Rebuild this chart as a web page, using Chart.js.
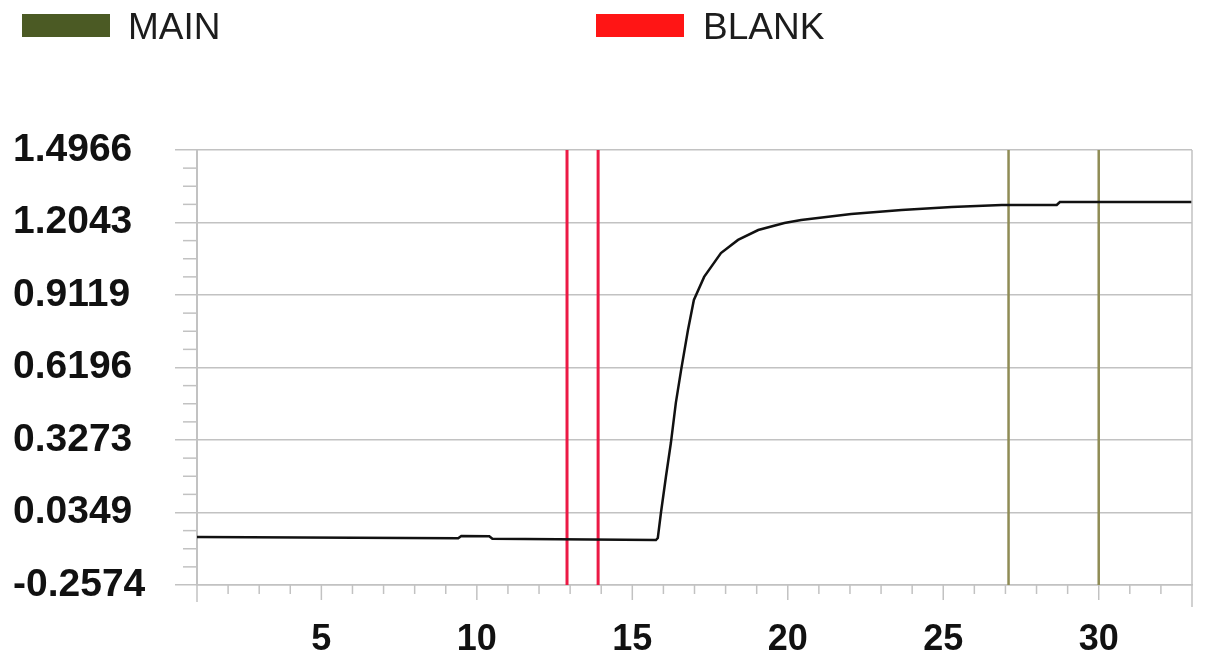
<!DOCTYPE html>
<html lang="en">
<head>
    <meta charset="UTF-8">
    <title>MAIN / BLANK</title>
    <script src="https://cdn.jsdelivr.net/npm/chart.js"></script>
    <style>
        html, body {
            margin: 0;
            padding: 0;
            background: #fff;
        }
        .wrap {
            position: relative;
            width: 1218px;
            height: 662px;
        }
        canvas {
            position: absolute;
            left: 0;
            top: 0;
        }
        .legend-box {
            position: absolute;
            top: 14px;
            width: 88px;
            height: 23px;
        }
        .legend-text {
            position: absolute;
            top: 6px;
            font: 37px "Liberation Sans", Arial, sans-serif;
            color: #1c1c1c;
        }
    </style>
</head>
<body>
    <div class="wrap">
        <canvas id="myChart" width="1218" height="662"></canvas>
        <div id="legend"></div>
    </div>

    <script>
        // axis ranges and tick labels
        const xMin = 1;
        const xMax = 33;
        const xTicks = [5, 10, 15, 20, 25, 30];
        const yTicks = [-0.2574, 0.0349, 0.3273, 0.6196, 0.9119, 1.2043, 1.4966];

        // measured curve
        const signalX = [1, 9.4, 9.5, 10.4, 10.5, 15.76, 15.82, 15.92, 16.08, 16.24, 16.40, 16.57, 16.79, 16.98,
                         17.31, 17.85, 18.40, 19.05, 19.89, 20.43, 22.04, 23.66, 25.27, 26.88, 28.65, 28.75, 33];
        const signalY = [-0.064, -0.069, -0.060, -0.061, -0.071, -0.076, -0.068, 0.033, 0.178, 0.315, 0.477, 0.610, 0.771, 0.892,
                         0.985, 1.081, 1.134, 1.174, 1.202, 1.214, 1.239, 1.255, 1.267, 1.275, 1.275, 1.287, 1.287];

        // marker positions
        const mainX = [27.1, 30.0];
        const blankX = [12.9, 13.9];

        const mainColor = '#8f8c55';
        const mainLegendColor = '#4b5a24';
        const blankColor = '#ec1a45';
        const blankLegendColor = '#ff1515';
        const gridColor = '#c2c2c2';

        const yMin = yTicks[0];
        const yMax = yTicks[yTicks.length - 1];

        function verticalLines(xs) {
            const pts = [];
            xs.forEach(x => {
                pts.push({x: x, y: yMin}, {x: x, y: yMax}, {x: x, y: null});
            });
            return pts;
        }

        // html legend
        const legendItems = [
            {label: 'MAIN', color: mainLegendColor, boxLeft: 22, textLeft: 128},
            {label: 'BLANK', color: blankLegendColor, boxLeft: 596, textLeft: 703}
        ];
        const legendEl = document.getElementById('legend');
        legendItems.forEach(item => {
            const box = document.createElement('div');
            box.className = 'legend-box';
            box.style.left = item.boxLeft + 'px';
            box.style.background = item.color;
            const txt = document.createElement('div');
            txt.className = 'legend-text';
            txt.style.left = item.textLeft + 'px';
            txt.textContent = item.label;
            legendEl.appendChild(box);
            legendEl.appendChild(txt);
        });

        const minorTicks = {
            id: 'minorTicks',
            afterDraw(chart) {
                const {ctx, chartArea: a, scales: {x, y}} = chart;
                ctx.save();
                ctx.strokeStyle = gridColor;
                ctx.lineWidth = 1.5;
                const line = (x1, y1, x2, y2) => {
                    ctx.beginPath();
                    ctx.moveTo(x1, y1);
                    ctx.lineTo(x2, y2);
                    ctx.stroke();
                };
                for (let v = xMin + 1; v < xMax; v++) {
                    const px = x.getPixelForValue(v);
                    line(px, a.bottom, px, a.bottom + (v % 5 === 0 ? 15 : 9));
                }
                for (let i = 0; i < yTicks.length - 1; i++) {
                    const step = (yTicks[i + 1] - yTicks[i]) / 4;
                    for (let k = 1; k < 4; k++) {
                        const py = y.getPixelForValue(yTicks[i] + k * step);
                        line(a.left - 14, py, a.left, py);
                    }
                }
                line(a.left, a.bottom, a.left, a.bottom + 17);
                line(a.right, a.top, a.right, a.bottom + 22);
                ctx.restore();
            }
        };

        const ctx = document.getElementById('myChart').getContext('2d');
        new Chart(ctx, {
            type: 'scatter',
            data: {
                datasets: [
                    {
                        label: 'SIGNAL',
                        data: signalX.map((x, i) => ({x: x, y: signalY[i]})),
                        showLine: true,
                        borderColor: '#111',
                        borderWidth: 2.5,
                        pointRadius: 0,
                        order: 0
                    },
                    {
                        label: 'MAIN',
                        data: verticalLines(mainX),
                        showLine: true,
                        borderColor: mainColor,
                        borderWidth: 2.5,
                        pointRadius: 0,
                        order: 1
                    },
                    {
                        label: 'BLANK',
                        data: verticalLines(blankX),
                        showLine: true,
                        borderColor: blankColor,
                        borderWidth: 3,
                        pointRadius: 0,
                        order: 1
                    }
                ]
            },
            options: {
                responsive: false,
                animation: false,
                layout: {
                    padding: {left: 13, top: 150, right: 26, bottom: 0}
                },
                plugins: {
                    legend: {display: false},
                    tooltip: {enabled: false}
                },
                scales: {
                    x: {
                        type: 'linear',
                        min: xMin,
                        max: xMax,
                        afterBuildTicks: axis => {
                            axis.ticks = xTicks.map(v => ({value: v}));
                        },
                        afterFit: axis => {
                            axis.height = 77;
                        },
                        grid: {display: false, drawTicks: false},
                        border: {display: true, color: gridColor, width: 1.5},
                        ticks: {
                            padding: 33,
                            color: '#111',
                            maxRotation: 0,
                            font: {family: '"Liberation Sans", Arial, sans-serif', size: 36, weight: 'bold'}
                        }
                    },
                    y: {
                        min: yMin,
                        max: yMax,
                        afterBuildTicks: axis => {
                            axis.ticks = yTicks.map(v => ({value: v}));
                        },
                        afterFit: axis => {
                            axis.width = 184;
                        },
                        grid: {color: gridColor, lineWidth: 1.5, tickLength: 22, tickColor: gridColor},
                        border: {display: true, color: gridColor, width: 2},
                        ticks: {
                            crossAlign: 'far',
                            color: '#111',
                            callback: v => String(v),
                            font: {family: '"Liberation Sans", Arial, sans-serif', size: 39, weight: 'bold'}
                        }
                    }
                }
            },
            plugins: [minorTicks]
        });
    </script>
</body>
</html>
